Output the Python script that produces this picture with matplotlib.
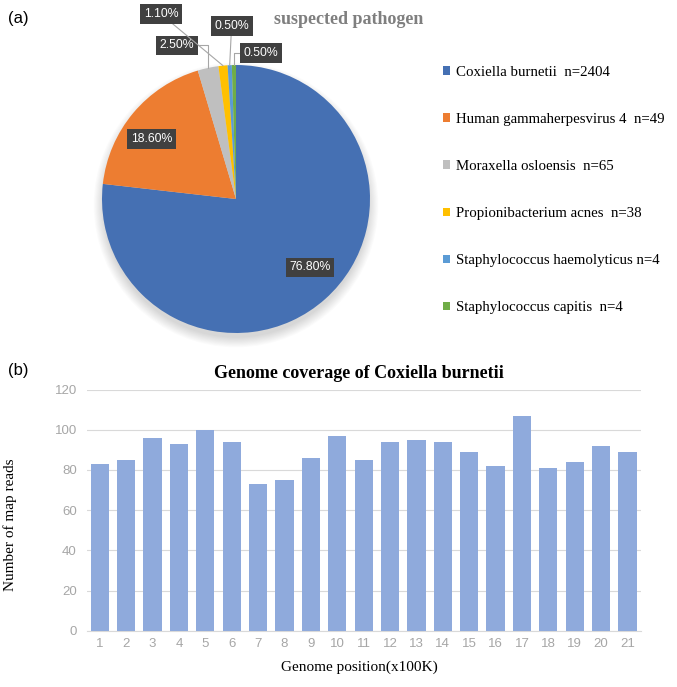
import numpy as np
import matplotlib
matplotlib.use("Agg")
import matplotlib.pyplot as plt
from matplotlib.patches import Patch, Circle

# Données du camembert (a)
pathogens = [
    "Coxiella burnetii  n=2404",
    "Human gammaherpesvirus 4  n=49",
    "Moraxella osloensis  n=65",
    "Propionibacterium acnes  n=38",
    "Staphylococcus haemolyticus n=4",
    "Staphylococcus capitis  n=4",
]
percent = [76.8, 18.6, 2.5, 1.1, 0.5, 0.5]
pie_colors = ["#4570B3", "#ED7D31", "#BFBFBF", "#FFC000", "#5B9BD5", "#70AD47"]

# Données du diagramme en barres (b)
positions = list(range(1, 22))
reads = [83, 85, 96, 93, 100, 94, 73, 75, 86, 97, 85, 94, 95, 94, 89, 82, 107, 81, 84, 92, 89]

W, H = 677, 687
fig = plt.figure(figsize=(W / 100, H / 100), dpi=100)

serif = "Liberation Serif"
sans = "Liberation Sans"


def px(x, y):
    # pixels -> fraction de figure
    return x / W, 1 - y / H


# ---------- (a) camembert ----------
cx, cy, r = 236, 199, 134
ax1 = fig.add_axes([(cx - r) / W, 1 - (cy + r) / H, 2 * r / W, 2 * r / H])

# ombre douce sous le camembert
for k in range(10):
    ax1.add_patch(Circle((0, -0.045), 0.99 + 0.008 * k, color="black",
                         alpha=0.016, lw=0, zorder=0, clip_on=False))

wedges, _ = ax1.pie(percent, colors=pie_colors, startangle=90, counterclock=False,
                    radius=1, wedgeprops=dict(linewidth=0))
ax1.set_xlim(-1, 1)
ax1.set_ylim(-1, 1)
ax1.set_aspect("equal")
ax1.axis("off")

# positions des étiquettes (unités du rayon)
label_pos = [(0.552, -0.511), (-0.631, 0.448), (-0.443, 1.146),
             (-0.56, 1.38), (-0.033, 1.29), (0.184, 1.09)]
inside = [True, True, False, False, False, False]
conn = [None, None, "angle,angleA=0,angleB=90,rad=0", "arc3", "arc3",
        "angle,angleA=0,angleB=90,rad=0"]
box = dict(boxstyle="square,pad=0.3", fc="#404040", ec="none")
for w, p, (lx, ly), ins, cs in zip(wedges, percent, label_pos, inside, conn):
    txt = f"{p:.2f}%"
    if ins:
        ax1.text(lx, ly, txt, ha="center", va="center", color="white",
                 fontsize=8.8, family=sans, bbox=box, zorder=5)
    else:
        mid = np.deg2rad((w.theta1 + w.theta2) / 2)
        ax1.annotate(txt, xy=(np.cos(mid), np.sin(mid)), xytext=(lx, ly),
                     ha="center", va="center", color="white", fontsize=8.8,
                     family=sans, bbox=box, annotation_clip=False, zorder=5,
                     arrowprops=dict(arrowstyle="-", color="#A6A6A6", lw=0.8,
                                     shrinkA=0, shrinkB=0, connectionstyle=cs))

fig.text(*px(349, 19), "suspected pathogen", ha="center", va="center",
         family=serif, fontweight="bold", fontsize=13, color="#7F7F7F")

handles = [Patch(facecolor=c, edgecolor="none") for c in pie_colors]
fig.legend(handles, pathogens, loc="center left", bbox_to_anchor=px(443, 190),
           frameon=False, borderpad=0, borderaxespad=0, handlelength=0.5,
           handleheight=0.5, handletextpad=0.4, labelspacing=2.3,
           prop=dict(family=serif, size=10.7))

fig.text(*px(18, 19), "(a)", ha="center", va="center", family=sans, fontsize=12)

# ---------- (b) barres ----------
left, right, top, bottom = 86.6, 640.7, 389.6, 630.7
ax2 = fig.add_axes([left / W, 1 - bottom / H, (right - left) / W, (bottom - top) / H])
ax2.bar(positions, reads, width=0.69, color="#8FAADC", zorder=3)
ax2.set_xlim(0.5, 21.5)
ax2.set_ylim(0, 120)
ax2.set_yticks(range(0, 121, 20))
ax2.set_xticks(positions)
ax2.grid(axis="y", color="#D9D9D9", lw=0.8, zorder=0)
for s in ["top", "right", "left"]:
    ax2.spines[s].set_visible(False)
ax2.spines["bottom"].set_color("#D9D9D9")
ax2.tick_params(length=0, labelsize=9.5, labelcolor="#A6A6A6")
ax2.tick_params(axis="y", pad=7)
ax2.tick_params(axis="x", pad=5)
for t in ax2.get_xticklabels() + ax2.get_yticklabels():
    t.set_family(sans)

fig.text(*px(359, 373), "Genome coverage of Coxiella burnetii", ha="center",
         va="center", family=serif, fontweight="bold", fontsize=13)
fig.text(*px(359, 667), "Genome position(x100K)", ha="center", va="center",
         family=serif, fontsize=11)
fig.text(*px(10, 525), "Number of map reads", ha="center", va="center",
         rotation=90, family=serif, fontsize=11)
fig.text(*px(18, 371), "(b)", ha="center", va="center", family=sans, fontsize=12)

fig.savefig("out.png", dpi=100)
